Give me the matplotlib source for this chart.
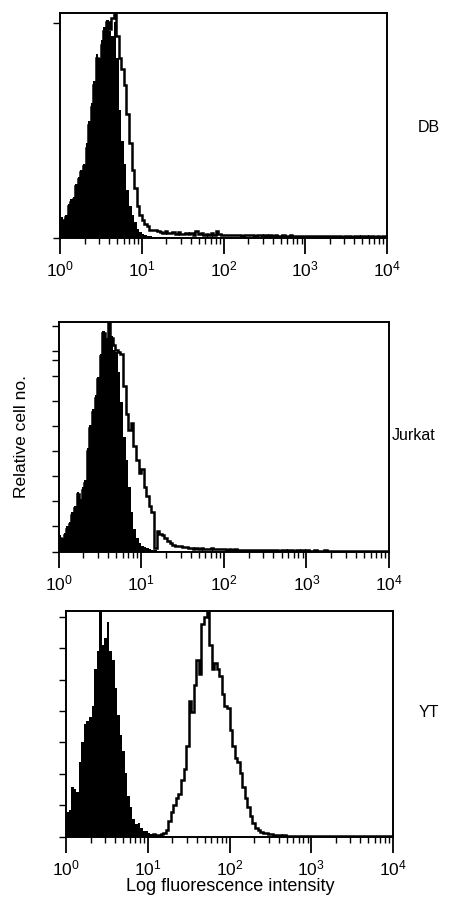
import numpy as np
import matplotlib
matplotlib.use("Agg")
import matplotlib.pyplot as plt
from matplotlib.ticker import FixedLocator, NullFormatter, LogLocator

plt.rcParams['font.family'] = ['Liberation Sans', 'DejaVu Sans']
plt.rcParams['mathtext.fontset'] = 'custom'
plt.rcParams['mathtext.rm'] = 'Liberation Sans'

# ---------------- data (relative cell number, % of panel height), 32 channels / decade ----------------
panel_labels = ["DB", "Jurkat", "YT"]
x_tick_values = [1, 10, 100, 1000, 10000]
x_tick_labels = [r"$\mathdefault{10^{0}}$", r"$\mathdefault{10^{1}}$", r"$\mathdefault{10^{2}}$",
                 r"$\mathdefault{10^{3}}$", r"$\mathdefault{10^{4}}$"]
n_channels = 128

db_control = [9, 8, 10, 15, 17, 18, 24, 27, 30, 33, 42, 52, 60, 70, 82, 80,
              88, 94, 97, 92, 90, 96, 80, 57, 43, 33, 21, 14, 10, 7, 4, 2.5,
              1.5, 1.0, 0.8, 0.5, 0.4, 0.3, 0.3, 0.2, 0.2, 0.1, 0.1, 0, 0, 0, 0, 0] + [0] * 80
db_stained = [8, 7, 9, 14, 16, 17, 23, 26, 29, 32, 40, 50, 58, 68, 80, 78,
              86, 92, 96, 93, 98, 100, 90, 80, 75, 68, 55, 42, 30, 22, 14, 10,
              8, 6, 5, 3.5, 3.2, 3.5, 3.0, 2.6, 2.2, 3.0, 2.0, 1.8, 2.4, 1.6, 2.5, 1.5,
              1.5, 2.2, 1.4, 1.8, 1.2, 2.8, 1.5, 1.8, 1.2, 1.6, 1.3, 1.8, 1.2, 3.0, 1.4, 1.0,
              1.2, 0.9, 1.1, 1.3, 0.9, 1.0, 1.2, 0.8, 1.1, 0.9, 1.0, 1.2, 0.8, 0.9, 1.1, 0.8,
              0.9, 0.7, 1.0, 0.8, 1.2, 0.7, 0.8, 1.0, 0.7, 0.8, 0.9, 0.6, 0.8, 0.7, 0.6, 0.8,
              0.6, 0.7, 0.5, 0.8, 0.6, 0.5, 0.7, 0.6, 0.5, 0.6, 0.5, 0.7, 0.5, 0.6, 0.4, 0.5,
              0.5, 0.6, 0.4, 0.5, 0.6, 0.4, 0.5, 0.5, 0.4, 0.5, 0.6, 0.4, 0.5, 0.4, 0.5, 0.6]

jurkat_control = [7, 6, 8, 11, 13, 17, 20, 26, 23, 28, 31, 45, 55, 62, 68, 76,
                  86, 96, 93, 99, 94, 88, 87, 78, 65, 50, 40, 28, 17, 10, 6, 3.5,
                  2.5, 2, 1.5, 1, 0.8, 0.5, 0.4, 0.3, 0.2, 0.2, 0.1, 0, 0, 0, 0, 0] + [0] * 80
jurkat_stained = [6, 5, 7, 10, 12, 16, 19, 25, 22, 27, 30, 44, 54, 61, 67, 75,
                  85, 95, 92, 100, 93, 90, 88, 87, 86, 72, 60, 53, 56, 46, 40, 34,
                  36, 28, 24, 20, 17, 1.5, 9, 7.5, 7, 6, 4.5, 3.5, 3, 2.5, 2.2, 2.5,
                  1.8, 2.0, 1.5, 1.7, 1.3, 1.6, 1.2, 1.4, 1.0, 1.3, 1.1, 1.4, 0.9, 1.2, 1.0, 1.3,
                  0.9, 0.8, 1.0, 0.7, 0.9, 0.8, 0.6, 0.8, 0.7, 0.6, 0.8, 0.6, 0.7, 0.5, 0.6, 0.7,
                  0.5, 0.6, 0.5, 0.7, 0.5, 0.4, 0.6, 0.5, 0.4, 0.5, 0.6, 0.4, 0.5, 0.4, 0.5, 0.4,
                  0.5, 0.4, 0.3, 0.5, 0.4, 0.3, 0.4, 0.5, 0.3, 0.4, 0.3, 0.4, 0.3, 0.4, 0.3, 0.3,
                  0.4, 0.3, 0.3, 0.4, 0.3, 0.3, 0.4, 0.3, 0.3, 0.3, 0.4, 0.3, 0.3, 0.3, 0.3, 0.4]

yt_control = [11, 12, 22, 21, 20, 33, 42, 50, 51, 53, 58, 74, 82, 100, 85, 88,
              95, 82, 78, 66, 54, 45, 38, 28, 18, 13, 8, 5.5, 6, 4, 2.7, 2.4,
              1.5, 1.2, 1.0, 0.8, 0.8, 0.6, 0.5, 0.5, 0.4, 0, 0, 0, 0, 0, 0, 0] + [0] * 80
yt_stained = [1.0, 1.2, 0.9, 1.1, 1.0, 1.2, 0.9, 1.0, 1.1, 0.9, 1.0, 1.2, 1.0, 0.9, 1.1, 1.0,
              1.2, 0.9, 1.0, 1.1, 0.9, 1.0, 1.2, 1.0, 0.9, 1.1, 1.0, 0.9, 1.1, 1.0, 0.8, 1.0,
              0.9, 0.8, 1.0, 0.9, 0.8, 1.2, 1.5, 3, 7, 11, 14, 17, 19, 25, 30, 40,
              60, 55, 67, 78, 72, 94, 97, 100, 85, 74, 77, 74, 71, 63, 58, 57,
              47, 40, 35, 33, 28, 22, 17, 13, 9, 6, 4, 3, 2.2, 1.8, 1.5, 1.2,
              1.0, 0.8, 0.6, 0.7, 0.5, 0.6, 0.5, 0.4, 0.5, 0.4, 0.5, 0.4, 0.3, 0.4, 0.3, 0.4,
              0.3, 0.4, 0.3, 0.3, 0.4, 0.3, 0.3, 0.4, 0.3, 0.3, 0.3, 0.4, 0.3, 0.3, 0.3, 0.3,
              0.3, 0.3, 0.4, 0.3, 0.3, 0.3, 0.3, 0.3, 0.3, 0.4, 0.3, 0.3, 0.3, 0.3, 0.3, 0.3]

# left-axis tick marks (in % of panel height)
db_yticks = [0, 95.7]
jurkat_yticks = [0, 10.9, 21.8, 32.7, 43.6, 54.5, 65.4, 76.3, 83.4, 87.2, 98.1]
yt_yticks = [0, 13.9, 27.8, 41.7, 55.6, 69.5, 83.4, 97.3]

controls = [db_control, jurkat_control, yt_control]
stained = [db_stained, jurkat_stained, yt_stained]
yticks_all = [db_yticks, jurkat_yticks, yt_yticks]

# ---------------- layout ----------------
W, H = 473, 905
fig = plt.figure(figsize=(W / 100, H / 100), dpi=100)

# pixel boxes: left, right, top, bottom
boxes = [(60, 387, 13.3, 237.5), (58.5, 389, 322, 551.5), (66, 393, 610.7, 836.7)]
label_pos = [(429, 127), (414, 435.5), (429, 712)]

edges = np.logspace(0, 4, n_channels + 1)

for i in range(3):
    l, r, t, b = boxes[i]
    ax = fig.add_axes([l / W, (H - b) / H, (r - l) / W, (b - t) / H])
    ax.stairs(np.array(controls[i], dtype=float), edges, fill=True, color='black', lw=0)
    ax.stairs(np.array(stained[i], dtype=float), edges, color='black', lw=1.8)
    ax.set_xscale('log')
    ax.set_xlim(1, 1e4)
    ax.set_ylim(0, 100)
    ax.xaxis.set_major_locator(FixedLocator(x_tick_values))
    ax.set_xticklabels(x_tick_labels)
    ax.xaxis.set_minor_locator(LogLocator(base=10, subs=np.arange(2, 10)))
    ax.xaxis.set_minor_formatter(NullFormatter())
    ax.set_yticks(yticks_all[i])
    ax.set_yticklabels([])
    ax.tick_params(axis='x', which='major', direction='out', length=11.5, width=1.3,
                   pad=4, labelsize=12.5)
    ax.tick_params(axis='x', which='minor', direction='out', length=4, width=1.0)
    ax.tick_params(axis='y', which='major', direction='out', length=5, width=1.0)
    for s in ax.spines.values():
        s.set_linewidth(1.4)
    lx, ly = label_pos[i]
    fig.text(lx / W, (H - ly) / H, panel_labels[i], ha='center', va='center', fontsize=11.5)

fig.text(21.7 / W, (H - 436) / H, "Relative cell no.", rotation=90, ha='center', va='center',
         fontsize=12.5)
fig.text(230.5 / W, (H - 886.7) / H, "Log fluorescence intensity", ha='center', va='center',
         fontsize=13)

fig.savefig("out.png", dpi=100)
